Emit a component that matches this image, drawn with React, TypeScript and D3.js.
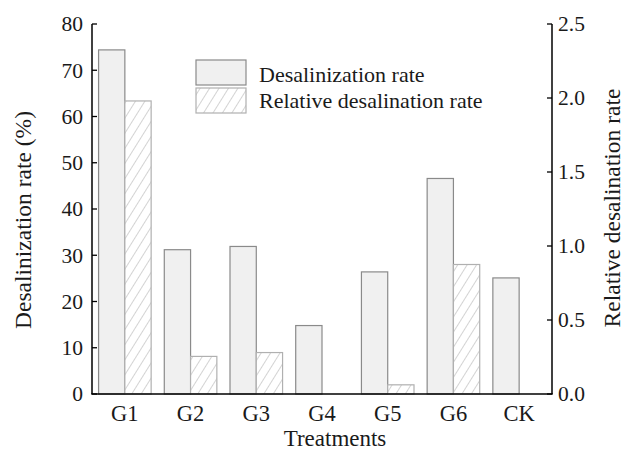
import React from "react";
import * as d3 from "d3";

const categories = ["G1", "G2", "G3", "G4", "G5", "G6", "CK"];
const desalinizationRate = [74.4, 31.2, 31.9, 14.8, 26.4, 46.6, 25.1];
const relativeRate = [1.98, 0.254, 0.28, 0, 0.062, 0.875, 0];
const leftTicks = [0, 10, 20, 30, 40, 50, 60, 70, 80];
const rightTicks = [0, 0.5, 1.0, 1.5, 2.0, 2.5];
const seriesNames = ["Desalinization rate", "Relative desalination rate"];

const W = 631;
const H = 452;
const M = { left: 92, right: 552, top: 24, bottom: 394 };
const FONT = "'Liberation Serif'";
const TS = { fontFamily: FONT };

export default function App() {
  const x = d3
    .scaleBand<string>()
    .domain(categories)
    .range([M.left, M.right])
    .paddingInner(0.2)
    .paddingOuter(0.1);
  const sub = d3
    .scaleBand<string>()
    .domain(["d", "r"])
    .range([0, x.bandwidth()])
    .padding(0);
  const yL = d3.scaleLinear().domain([0, 80]).range([M.bottom, M.top]);
  const yR = d3.scaleLinear().domain([0, 2.5]).range([M.bottom, M.top]);

  const barFill = "#f0f0f0";
  const barStroke = "#8a8a8a";
  const hatchStroke = "#a8a8a8";
  const textColor = "#1a1a1a";

  return (
    <svg
      width={W}
      height={H}
      style={{ position: "absolute", left: 0, top: 0, background: "#fff", fontFamily: FONT }}
    >
      <defs>
        <pattern
          id="hatch"
          width={8}
          height={8}
          patternUnits="userSpaceOnUse"
          patternTransform="rotate(32)"
        >
          <rect width={8} height={8} fill="#fff" />
          <line x1={0} y1={0} x2={0} y2={8} stroke={hatchStroke} strokeWidth={1} />
        </pattern>
      </defs>
      <rect x={0} y={0} width={W} height={H} fill="#fff" />

      {/* bars */}
      {categories.map((c, i) => {
        const x0 = x(c)!;
        const dv = desalinizationRate[i];
        const rv = relativeRate[i];
        return (
          <g key={c}>
            <rect
              x={x0 + sub("d")!}
              y={yL(dv)}
              width={sub.bandwidth()}
              height={yL(0) - yL(dv)}
              fill={barFill}
              stroke={barStroke}
              strokeWidth={1.2}
            />
            {rv > 0 && (
              <rect
                x={x0 + sub("r")!}
                y={yR(rv)}
                width={sub.bandwidth()}
                height={yR(0) - yR(rv)}
                fill="url(#hatch)"
                stroke="#b0b0b0"
                strokeWidth={1.2}
              />
            )}
          </g>
        );
      })}

      {/* axes lines */}
      <line x1={M.left} y1={M.top} x2={M.left} y2={M.bottom} stroke="#000" strokeWidth={1.5} />
      <line x1={M.right} y1={M.top} x2={M.right} y2={M.bottom} stroke="#000" strokeWidth={1.5} />
      <line x1={M.left - 0.75} y1={M.bottom} x2={M.right + 0.75} y2={M.bottom} stroke="#000" strokeWidth={1.5} />

      {/* left ticks */}
      {leftTicks.map((t) => (
        <g key={"l" + t}>
          <line x1={M.left} x2={M.left + 5} y1={yL(t)} y2={yL(t)} stroke="#000" strokeWidth={1.3} />
          <text
            x={M.left - 9}
            y={yL(t)}
            dy="0.34em"
            textAnchor="end"
            fontSize={21.5}
            fill={textColor}
            style={TS}
          >
            {t}
          </text>
        </g>
      ))}

      {/* right ticks */}
      {rightTicks.map((t) => (
        <g key={"r" + t}>
          <line x1={M.right} x2={M.right - 5} y1={yR(t)} y2={yR(t)} stroke="#000" strokeWidth={1.3} />
          <text
            x={M.right + 6}
            y={yR(t)}
            dy="0.34em"
            textAnchor="start"
            fontSize={21.5}
            fill={textColor}
            style={TS}
          >
            {t.toFixed(1)}
          </text>
        </g>
      ))}

      {/* x labels */}
      {categories.map((c) => (
        <text
          key={"x" + c}
          x={x(c)! + x.bandwidth() / 2}
          y={421}
          textAnchor="middle"
          fontSize={22.5}
          fill={textColor}
          style={TS}
        >
          {c}
        </text>
      ))}

      {/* axis titles */}
      <text
        x={335}
        y={446}
        textAnchor="middle"
        fontSize={23}
        fill={textColor}
        style={TS}
      >
        Treatments
      </text>
      <text
        transform={`translate(31, 220) rotate(-90)`}
        textAnchor="middle"
        fontSize={23.5}
        fill={textColor}
        style={TS}
      >
        Desalinization rate (%)
      </text>
      <text
        transform={`translate(620, 208) rotate(-90)`}
        textAnchor="middle"
        fontSize={23.5}
        fill={textColor}
        style={TS}
      >
        Relative desalination rate
      </text>

      {/* legend */}
      <rect x={196} y={60} width={50} height={25} fill={barFill} stroke={barStroke} strokeWidth={1.2} />
      <rect x={196} y={88} width={50} height={25} fill="url(#hatch)" stroke="#b0b0b0" strokeWidth={1.2} />
      <text x={259} y={81.5} fontSize={22} fill={textColor} style={TS}>
        {seriesNames[0]}
      </text>
      <text x={259} y={108} fontSize={22} fill={textColor} style={TS}>
        {seriesNames[1]}
      </text>
    </svg>
  );
}
